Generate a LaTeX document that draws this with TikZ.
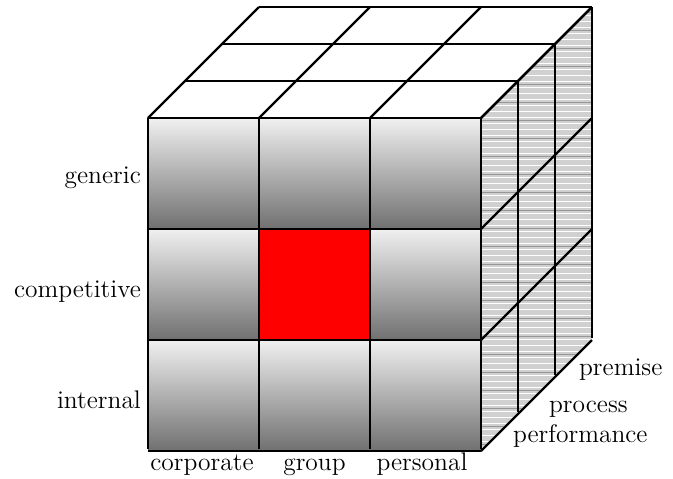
\documentclass[tikz,border=0pt]{standalone}
\usepackage{tikz}
\usetikzlibrary{calc}
\definecolor{celltop}{RGB}{240,240,240}
\definecolor{cellbottom}{RGB}{112,112,112}
\definecolor{sideface}{RGB}{208,208,208}
\definecolor{sidestripe}{RGB}{150,150,150}
\definecolor{hotcell}{RGB}{255,0,0}
\tikzset{
  cubeline/.style={black,line width=1.3pt,line join=round},
  dimlabel/.style={font=\fontsize{14.5}{17}\selectfont,inner sep=1pt},
}
\newcommand{\frontcell}[2]{%
  \shade[top color=celltop,bottom color=cellbottom] (148+111*#1,118+111*#2) rectangle ++(111,111);%
}

\begin{document}
\begin{tikzpicture}[x=0.02cm,y=-0.02cm]
  \useasboundingbox (0,0) rectangle (673,478);
  % front face
  \foreach \c in {0,1,2}
    \foreach \r in {0,1,2} {\frontcell{\c}{\r}}
  \fill[hotcell] (259,229) rectangle (370,340);
  % top face
  \fill[white] (148,118) -- (259,7) -- (592,7) -- (481,118) -- cycle;
  % right face
  \fill[sideface] (481,118) -- (592,7) -- (592,338) -- (481,449) -- cycle;
  \begin{scope}
    \clip (481,118) -- (592,7) -- (592,338) -- (481,449) -- cycle;
    \foreach \h in {9,15,...,448} \draw[white,line width=0.5pt] (481,\h) -- (592,\h);
    \foreach \h in {12,30,...,448} \draw[sidestripe,line width=0.4pt] (481,\h) -- (592,\h);
  \end{scope}
  % grid lines
  \foreach \k in {0,1,2,3} {
    \draw[cubeline] (148+111*\k,118) -- (148+111*\k,449);
    \draw[cubeline] (148,118+111*\k) -- (481,118+111*\k);
    \draw[cubeline] (148+111*\k,118) -- (259+111*\k,7);
    \draw[cubeline] (148+37*\k,118-37*\k) -- (481+37*\k,118-37*\k);
    \draw[cubeline] (481+37*\k,118-37*\k) -- (481+37*\k,449-37*\k);
    \draw[cubeline] (481,118+111*\k) -- (592,7+111*\k);
  }
  % labels
  \node[dimlabel,anchor=base east] (generic) at (143,183) {generic};
  \node[dimlabel,anchor=base east] (competitive) at (143,297) {competitive};
  \node[dimlabel,anchor=base east] (internal) at (143,408) {internal};
  \node[dimlabel,anchor=base] (corporate) at (202,470) {corporate};
  \node[dimlabel,anchor=base] (group) at (314.5,470) {group};
  \node[dimlabel,anchor=base] (personal) at (422,470) {personal};
  \node[dimlabel,anchor=base west] (performance) at (511,442) {performance};
  \node[dimlabel,anchor=base west] (process) at (547,412) {process};
  \node[dimlabel,anchor=base west] (premise) at (577,375) {premise};
\end{tikzpicture}
\end{document}
